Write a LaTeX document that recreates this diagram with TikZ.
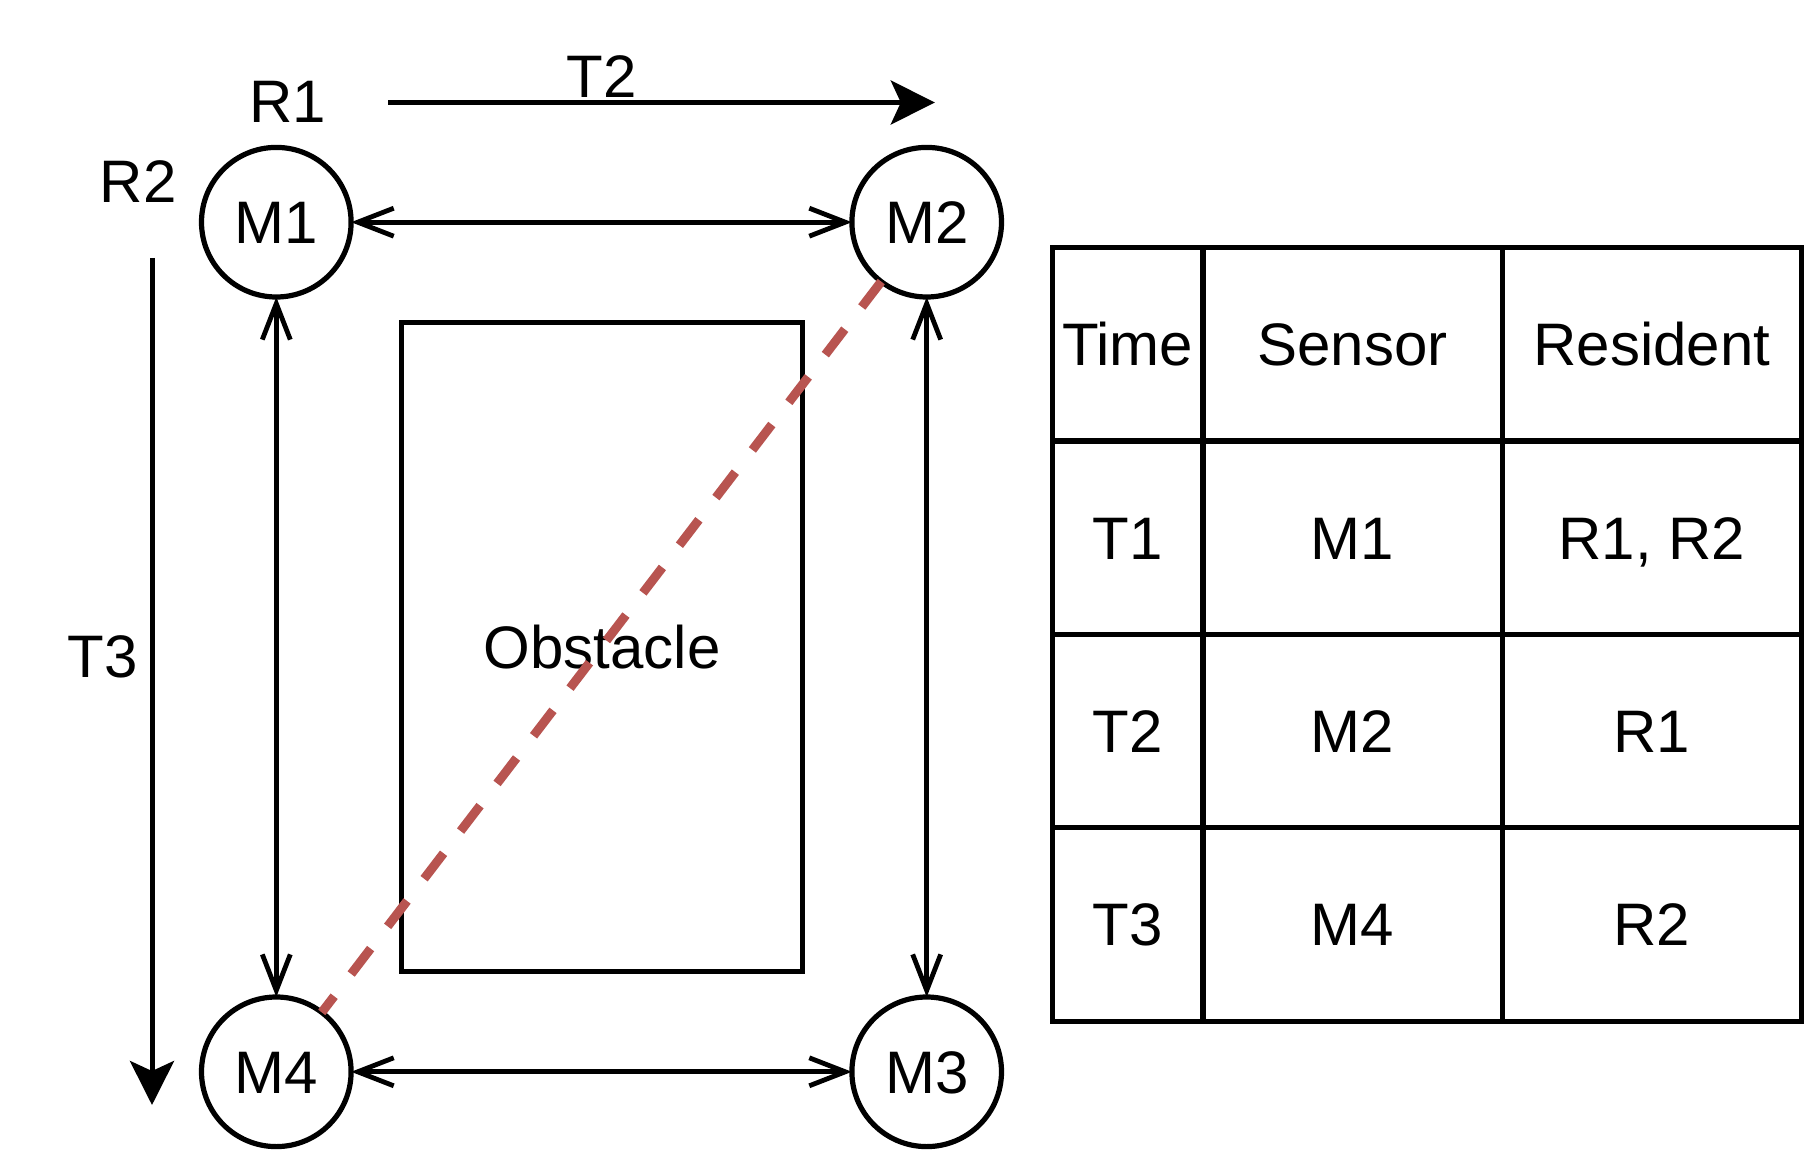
\documentclass[tikz,border=0pt]{standalone}
\usepackage{fontspec}
\setmainfont{Liberation Sans}
\usetikzlibrary{arrows.meta}
\begin{document}
\begin{tikzpicture}[x=1pt,y=-1pt,
  lbl/.style={font=\fontsize{60}{62}\selectfont, inner sep=0pt, text height=43pt, text depth=0pt},
  sensor/.style={circle, draw, line width=5.2pt, minimum size=149.6pt, inner sep=0pt, outer sep=0pt, lbl},
  link/.style={line width=4.8pt, {Straight Barb[length=36pt,width=28pt]}-{Straight Barb[length=36pt,width=28pt]}},
  timearrow/.style={line width=5pt, -{Stealth[length=44pt,width=44pt,inset=10pt]}},
  cell/.style={draw, line width=5.2pt, rectangle, inner sep=0pt, outer sep=0pt, lbl, minimum height=193.4pt},
  narrow/.style={cell, minimum width=150.8pt},
  wide/.style={cell, minimum width=299.3pt}]
\useasboundingbox (0,0) rectangle (1805,1150);
\fill[white] (0,0) rectangle (1805,1150);

% obstacle
\node[draw, line width=5.2pt, rectangle, minimum width=400.6pt, minimum height=649.3pt, inner sep=0pt, outer sep=0pt, lbl] (obs) at (602.1,647) {Obstacle};

% sensors
\node[sensor] (M1) at (276.3,222.2) {M1};
\node[sensor] (M2) at (926.7,222.2) {M2};
\node[sensor] (M4) at (276.3,1071.8) {M4};
\node[sensor] (M3) at (926.7,1071.8) {M3};

\draw[link] (M1) -- (M2);
\draw[link] (M4) -- (M3);
\draw[link] (M1) -- (M4);
\draw[link] (M2) -- (M3);

% dashed path
\draw[line width=9pt, color={rgb,255:red,184;green,84;blue,80}, dash pattern=on 32pt off 28pt] (M2) -- (M4);

% labels
\node[lbl] (R1) at (287.8,101.3) {R1};
\node[lbl] (R2) at (138.1,180.7) {R2};
\node[lbl] (T2l) at (602,76) {T2};
\node[lbl] (T3l) at (102.5,656.2) {T3};

\coordinate (t2a) at (388,102.5);
\coordinate (t2b) at (934.8,102.5);
\coordinate (t3a) at (152,257.9);
\coordinate (t3b) at (152,1105);
\draw[timearrow] (t2a) -- (t2b);
\draw[timearrow] (t3a) -- (t3b);

% table
\node[narrow] (c11) at (1127.6,344.2) {Time};
\node[wide]   (c12) at (1352.65,344.2) {Sensor};
\node[wide]   (c13) at (1651.95,344.2) {Resident};
\node[narrow] (c21) at (1127.6,537.6) {T1};
\node[wide]   (c22) at (1352.65,537.6) {M1};
\node[wide]   (c23) at (1651.95,537.6) {R1, R2};
\node[narrow] (c31) at (1127.6,731.0) {T2};
\node[wide]   (c32) at (1352.65,731.0) {M2};
\node[wide]   (c33) at (1651.95,731.0) {R1};
\node[narrow] (c41) at (1127.6,924.4) {T3};
\node[wide]   (c42) at (1352.65,924.4) {M4};
\node[wide]   (c43) at (1651.95,924.4) {R2};
\end{tikzpicture}
\end{document}
